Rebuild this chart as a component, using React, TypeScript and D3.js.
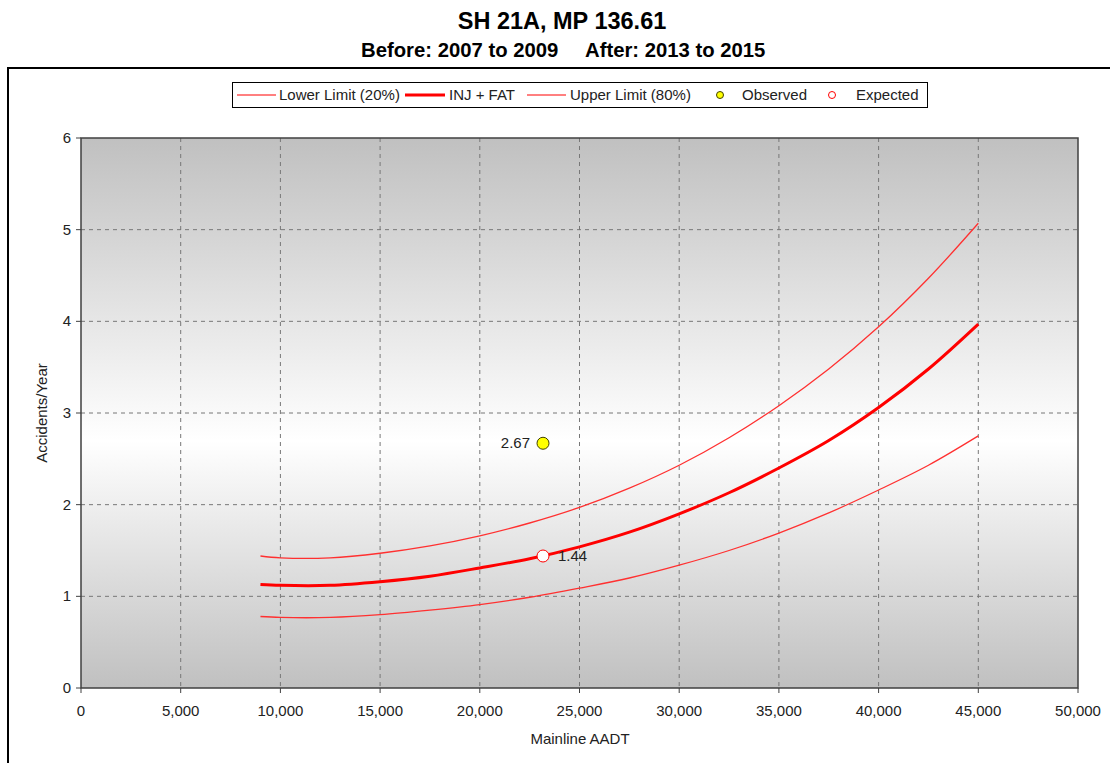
import React from "react";
import * as d3 from "d3";

const aadt = [9000, 10000, 12500, 15000, 17500, 20000, 22500, 25000, 27500, 30000, 32500, 35000, 37500, 40000, 42500, 45000];
const injFat = [1.13, 1.12, 1.12, 1.16, 1.22, 1.31, 1.41, 1.54, 1.7, 1.9, 2.13, 2.4, 2.7, 3.06, 3.48, 3.97];
const upperLimit = [1.44, 1.42, 1.42, 1.47, 1.55, 1.66, 1.8, 1.97, 2.18, 2.43, 2.73, 3.08, 3.48, 3.94, 4.47, 5.07];
const lowerLimit = [0.78, 0.77, 0.77, 0.8, 0.85, 0.91, 0.99, 1.09, 1.2, 1.34, 1.5, 1.69, 1.91, 2.16, 2.43, 2.75];
const observed = { x: 23170, y: 2.67, label: "2.67" };
const expected = { x: 23170, y: 1.44, label: "1.44" };
const xTicks = [0, 5000, 10000, 15000, 20000, 25000, 30000, 35000, 40000, 45000, 50000];
const yTicks = [0, 1, 2, 3, 4, 5, 6];

const W = 1110, H = 763;
const left = 81, right = 1078, top = 138, bottom = 688;
const FONT = "'Liberation Sans', Arial, sans-serif";

export default function App() {
  const x = d3.scaleLinear().domain([0, 50000]).range([left, right]);
  const y = d3.scaleLinear().domain([0, 6]).range([bottom, top]);
  const line = (vals: number[]) =>
    d3.line<number>().x((_, i) => x(aadt[i])).y((v) => y(v)).curve(d3.curveCatmullRom.alpha(0.5))(vals) || "";
  const fmt = d3.format(",");
  const red = "#ff0000";

  return (
    <svg width={W} height={H} style={{ position: "absolute", left: 0, top: 0 }} fontFamily={FONT}>
      <defs>
        <linearGradient id="bg" x1="0" y1="0" x2="0" y2="1">
          <stop offset="0%" stopColor="#c0c0c0" />
          <stop offset="55%" stopColor="#ffffff" />
          <stop offset="100%" stopColor="#c0c0c0" />
        </linearGradient>
      </defs>
      <rect x={0} y={0} width={W} height={H} fill="#fff" />
      <text x={562} y={29} textAnchor="middle" fontSize={23.5} fontWeight="bold">SH 21A, MP 136.61</text>
      <text x={361} y={57} fontSize={20.3} fontWeight="bold">Before: 2007 to 2009</text>
      <text x={585} y={57} fontSize={20.3} fontWeight="bold">After: 2013 to 2015</text>
      <rect x={8} y={68} width={1110} height={720} fill="none" stroke="#000" strokeWidth={2} />

      {/* legend */}
      <g fontSize={15} fill="#222">
        <rect x={232.5} y={82.5} width={695} height={25} fill="#fff" stroke="#000" strokeWidth={1} />
        <line x1={237} x2={276} y1={95} y2={95} stroke={red} strokeWidth={1} />
        <text x={279} y={100}>Lower Limit (20%)</text>
        <line x1={405} x2={445} y1={95} y2={95} stroke={red} strokeWidth={3} />
        <text x={449} y={100}>INJ + FAT</text>
        <line x1={527} x2={566} y1={95} y2={95} stroke={red} strokeWidth={1} />
        <text x={570} y={100}>Upper Limit (80%)</text>
        <circle cx={720} cy={95} r={3.5} fill="#ffff00" stroke="#404000" strokeWidth={1} />
        <text x={742} y={100}>Observed</text>
        <circle cx={832} cy={95} r={3.5} fill="#fff" stroke={red} strokeWidth={1} />
        <text x={856} y={100}>Expected</text>
      </g>

      {/* plot area */}
      <rect x={left} y={top} width={right - left} height={bottom - top} fill="url(#bg)" />
      {xTicks.slice(1, -1).map((t) => (
        <line key={"gx" + t} x1={x(t)} x2={x(t)} y1={top} y2={bottom} stroke="#777" strokeDasharray="4,4" strokeWidth={1} />
      ))}
      {yTicks.slice(1, -1).map((t) => (
        <line key={"gy" + t} x1={left} x2={right} y1={y(t)} y2={y(t)} stroke="#777" strokeDasharray="4,4" strokeWidth={1} />
      ))}
      <rect x={left} y={top} width={right - left} height={bottom - top} fill="none" stroke="#404040" strokeWidth={1.5} />

      {xTicks.map((t) => (
        <g key={"xt" + t}>
          <line x1={x(t)} x2={x(t)} y1={bottom} y2={bottom + 5} stroke="#404040" />
          <text x={x(t)} y={bottom + 28} textAnchor="middle" fontSize={15} fill="#222">{fmt(t)}</text>
        </g>
      ))}
      {yTicks.map((t) => (
        <g key={"yt" + t}>
          <line x1={left - 5} x2={left} y1={y(t)} y2={y(t)} stroke="#404040" />
          <text x={left - 10} y={y(t) + 5} textAnchor="end" fontSize={15} fill="#222">{t}</text>
        </g>
      ))}
      <text x={580} y={744} textAnchor="middle" fontSize={15} fill="#222">Mainline AADT</text>
      <text transform={`translate(47,${(top + bottom) / 2}) rotate(-90)`} textAnchor="middle" fontSize={15} fill="#222">Accidents/Year</text>

      <path d={line(lowerLimit)} fill="none" stroke="#ff3030" strokeWidth={1.3} />
      <path d={line(upperLimit)} fill="none" stroke="#ff3030" strokeWidth={1.3} />
      <path d={line(injFat)} fill="none" stroke={red} strokeWidth={3} />

      <circle cx={x(observed.x)} cy={y(observed.y)} r={6} fill="#ffff00" stroke="#404000" strokeWidth={1} />
      <text x={x(observed.x) - 13} y={y(observed.y) + 5} textAnchor="end" fontSize={15} fill="#222">{observed.label}</text>
      <circle cx={x(expected.x)} cy={y(expected.y)} r={6} fill="#fff" stroke={red} strokeWidth={1} />
      <text x={x(expected.x) + 15} y={y(expected.y) + 5} fontSize={15} fill="#222">{expected.label}</text>
    </svg>
  );
}
